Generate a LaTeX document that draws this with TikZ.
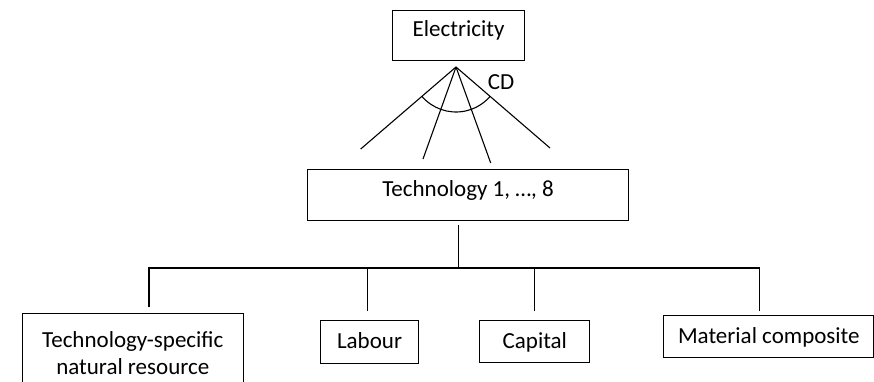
\documentclass[tikz,border=0pt]{standalone}
\usepackage{fontspec}
\setmainfont{Carlito}

\tikzset{box/.style={draw = black,
		line width = 1.1pt,
		inner sep = 0pt,
		anchor = north west,
		font = \fontsize{23}{27}\selectfont}}

\begin{document}
\begin{tikzpicture}[x=1pt, y=-1pt, line width=1.1pt]

	\clip (0,0) rectangle (874,381);

	% top level
	\node[box,
		  minimum width = 132pt,
		  text height = 26pt,
		  text depth = 24pt](elec) at (392,10){Electricity};
	\coordinate (apex) at (456,67);
	\node[font = \fontsize{23}{27}\selectfont,
		  inner sep = 0pt](cd) at (501,82.5){CD};

	\coordinate (l1) at (360.7,149);
	\coordinate (l2) at (423,159);
	\coordinate (l3) at (490.7,163);
	\coordinate (l4) at (550,148);

	\draw (apex) -- (l1);
	\draw (apex) -- (l2);
	\draw (apex) -- (l3);
	\draw (apex) -- (l4);
	\draw ([shift={(220.7:45pt)}]apex) 
		arc[start angle = 220.7, end angle = 319.3, radius = 45pt];

	% technology level
	\node[box,
		  minimum width = 321pt,
		  text height = 27pt,
		  text depth = 24pt](tech) at (307,169){Technology 1, \dots, 8};

	\coordinate (t0) at (458.7,225);
	\coordinate (t1) at (458.7,268);
	\coordinate (b1) at (149,268);
	\coordinate (b2) at (367.7,268);
	\coordinate (b3) at (534.3,268);
	\coordinate (b4) at (759.3,268);
	\coordinate (e1) at (149,306.7);
	\coordinate (e2) at (367.7,310.7);
	\coordinate (e3) at (534.3,310.7);
	\coordinate (e4) at (759.3,310.7);

	% inputs
	\node[box,
		  minimum width = 221pt,
		  minimum height = 80pt,
		  align = center](res) at (21.7,312.7){Technology-specific\\natural resource};
	\node[box,
		  minimum width = 98pt,
		  text height = 27.7pt,
		  text depth = 15.6pt](lab) at (320,320){Labour};
	\node[box,
		  minimum width = 110pt,
		  text height = 28pt,
		  text depth = 13.7pt](cap) at (479.3,320){Capital};
	\node[box,
		  minimum width = 210pt,
		  text height = 27.7pt,
		  text depth = 14pt](mat) at (663.3,315){Material composite};

	\draw (t0) -- (t1);
	\draw (e1) -- (b1) -- (b4) -- (e4);
	\draw (b2) -- (e2);
	\draw (b3) -- (e3);

\end{tikzpicture}
\end{document}
